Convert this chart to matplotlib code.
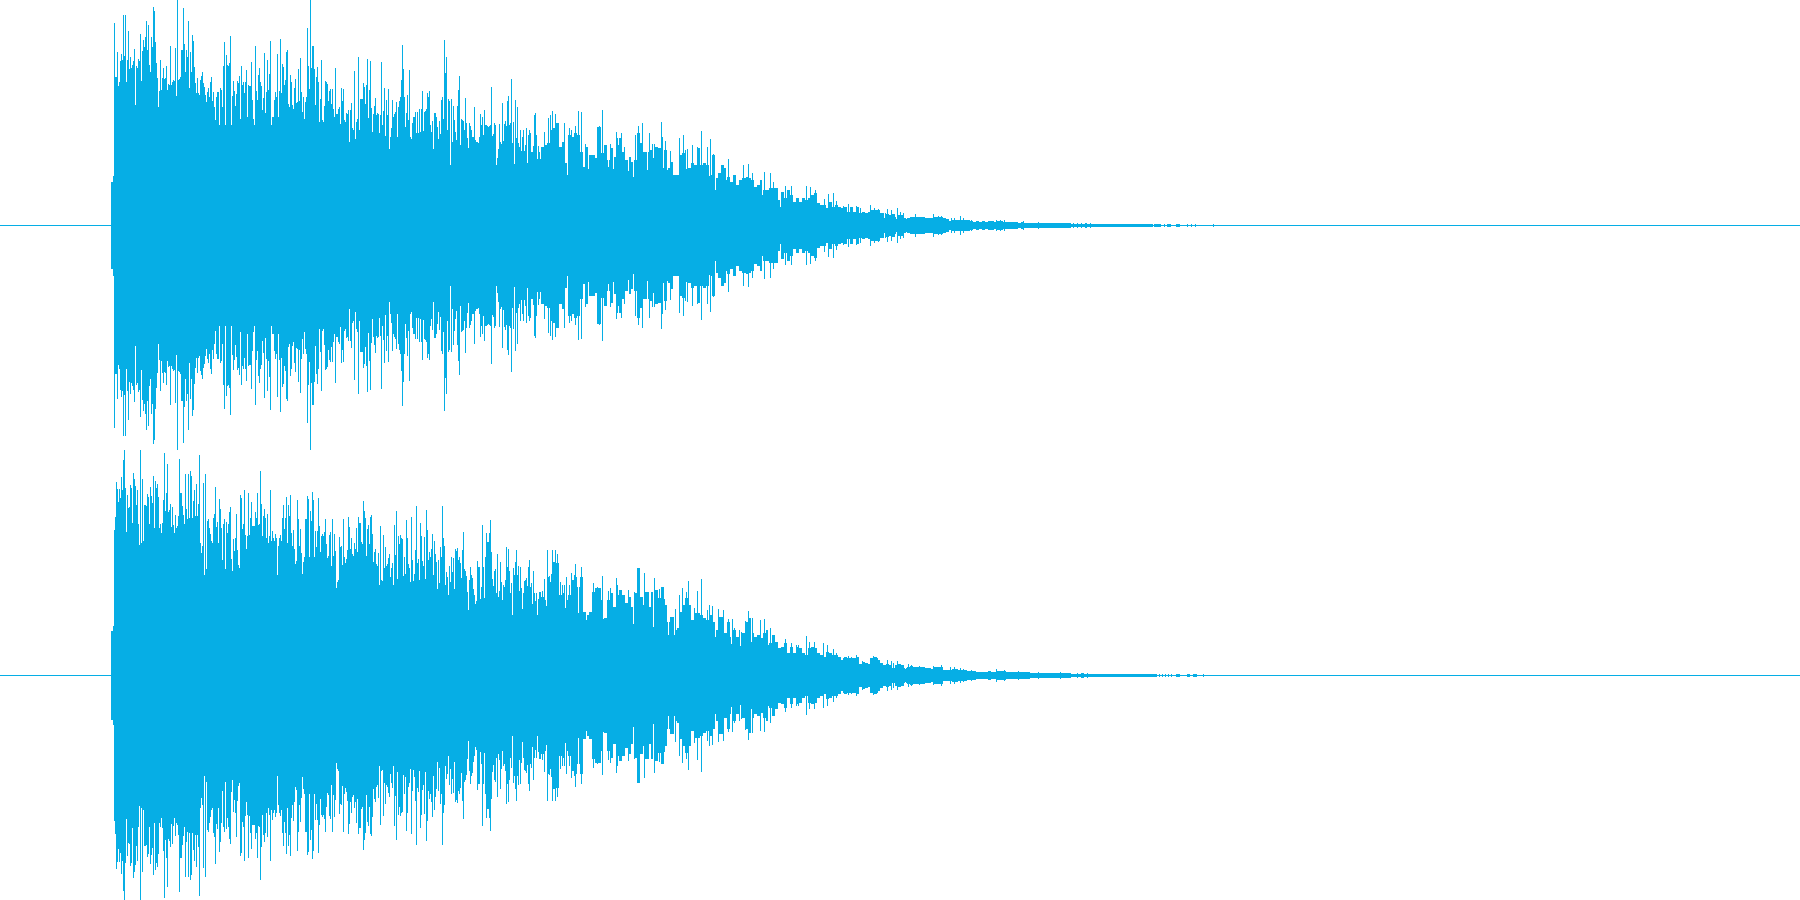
"""
Stereo waveform picture, one panel per channel. Both channels are mirrored around zero.
"""
import numpy as np
from matplotlib import pyplot as plt

COLOR = '#06aee5'
LINE_WIDTH = 0.72  # one pixel at dpi 100
N_COLUMNS = 1800
FULL_SCALE = 225  # peak heights below are in pixels, this height is amplitude 1
HEAD_START = 113
BODY_START = 325
MID_START = 540
FAR_START = 840
DECAY_STEP = 3
BAND_AMP = 0.011
TAIL_AMP = 0.0065

# Attack, the first columns of the sound
attack_x = [110, 111, 112]
ch1_attack = [0.19, 0.19, 0.22]
ch2_attack = [0.194, 0.194, 0.216]

# Peak height of every column, in pixels
ch1_head = [
    202, 148, 148, 173, 139, 143, 164, 171, 165, 210, 169, 210, 143, 165, 194, 156, 168, 157, 160, 164,
    176, 120, 159, 157, 166, 164, 191, 144, 174, 185, 178, 188, 204, 175, 200, 160, 153, 188, 178, 218,
    214, 183, 162, 147, 118, 134, 165, 135, 147, 157, 146, 147, 159, 135, 141, 140, 179, 140, 143, 145,
    144, 177, 129, 225, 145, 146, 148, 175, 175, 217, 181, 153, 175, 168, 204, 137, 173, 153, 190, 184,
    158, 142, 132, 147, 132, 130, 145, 149, 153, 142, 138, 130, 123, 133, 137, 128, 143, 148, 124, 133,
    118, 105, 128, 133, 133, 100, 137, 135, 118, 159, 183, 100, 170, 160, 159, 162, 189, 100, 129, 144,
    134, 119, 131, 144, 142, 149, 106, 159, 140, 143, 132, 143, 155, 108, 140, 139, 139, 163, 125, 106,
    100, 179, 134, 125, 150, 157, 143, 139, 115, 127, 172, 112, 133, 165, 135, 151, 184, 100, 108, 108,
    125, 133, 128, 171, 108, 134, 186, 132, 161, 158, 140, 145, 173, 175, 121, 118, 150, 143, 120, 116,
    137, 146, 122, 123, 156, 124, 167, 133, 113, 128, 106, 123, 128, 197, 159, 136, 225, 157, 179, 179,
    156, 120, 148, 158, 143, 103, 126, 165, 105, 103, 119, 144,
]
ch1_body = [
    143, 141, 124, 134, 136, 121, 136, 116, 108, 157, 111, 111, 116, 118, 101, 137, 124, 136, 105, 103,
    112, 111, 115, 83, 115, 122, 97, 95, 154, 86, 103, 106, 168, 95, 126, 126, 126, 142, 138, 121,
    140, 166, 107, 135, 164, 117, 93, 111, 119, 127, 110, 112, 111, 92, 110, 163, 100, 114, 137, 89,
    125, 110, 136, 76, 88, 97, 125, 108, 111, 113, 123, 88, 118, 124, 128, 145, 180, 156, 128, 98,
    112, 130, 105, 155, 88, 86, 102, 108, 108, 113, 92, 113, 92, 116, 93, 116, 134, 94, 113, 114,
    116, 132, 128, 134, 100, 93, 104, 76, 112, 112, 108, 98, 86, 104, 91, 125, 128, 106, 185, 152,
    168, 95, 126, 124, 60, 126, 83, 119, 105, 93, 85, 119, 135, 149, 80, 106, 105, 104, 95, 127,
    102, 87, 77, 102, 99, 95, 88, 88, 118, 85, 83, 83, 82, 88, 111, 100, 108, 90, 115, 100,
    100, 99, 98, 99, 100, 138, 89, 91, 102, 100, 60, 67, 76, 101, 83, 81, 122, 84, 101, 104,
    99, 124, 129, 100, 102, 146, 82, 103, 61, 125, 87, 118, 82, 78, 95, 74, 88, 95, 74, 80,
    97, 62, 90, 95, 92, 73, 73, 79, 110, 112, 90, 66, 79, 73, 66,
]
ch2_head = [
    145, 158, 193, 186, 173, 186, 177, 198, 185, 215, 225, 187, 143, 180, 167, 168, 190, 187, 152, 202,
    196, 189, 170, 185, 151, 130, 225, 132, 196, 134, 170, 170, 169, 181, 178, 151, 188, 179, 172, 199,
    147, 194, 187, 191, 178, 147, 151, 142, 152, 175, 222, 164, 182, 211, 163, 165, 171, 148, 168, 150,
    142, 160, 147, 149, 159, 216, 182, 182, 169, 160, 151, 201, 166, 156, 201, 157, 204, 199, 157, 174,
    185, 159, 191, 159, 171, 220, 132, 122, 129, 192, 100, 201, 106, 154, 156, 147, 141, 134, 132, 157,
    161, 188, 148, 153, 132, 176, 166, 147, 115, 151, 156, 106, 153, 142, 151, 163, 168, 116, 104, 136,
    124, 137, 161, 125, 110, 107, 180, 177, 146, 151, 185, 140, 126, 139, 182, 140, 157, 173, 149, 149,
    149, 163, 157, 182, 150, 151, 204, 171, 139, 159, 166, 157, 137, 161, 132, 139, 185, 134, 144, 137,
    134, 141, 137, 100, 129, 137, 140, 134, 157, 170, 146, 157, 178, 132, 170, 159, 180, 142, 129, 145,
    126, 111, 114, 175, 156, 129, 146, 122, 101, 113, 118, 156, 156, 179, 176, 118, 164, 154, 183, 175,
    118, 144, 128, 144, 177, 149, 123, 139, 141, 139, 143, 156,
]
ch2_body = [
    131, 117, 119, 140, 143, 109, 156, 119, 141, 124, 87, 93, 95, 138, 128, 129, 110, 156, 118, 112,
    116, 125, 158, 148, 126, 137, 121, 119, 132, 126, 147, 123, 158, 152, 152, 133, 131, 174, 164, 157,
    119, 146, 150, 131, 158, 160, 141, 113, 123, 126, 111, 109, 122, 90, 149, 95, 94, 140, 107, 128,
    109, 111, 117, 121, 98, 107, 112, 90, 150, 120, 164, 96, 139, 131, 140, 137, 136, 99, 118, 101,
    155, 137, 111, 107, 93, 158, 115, 94, 101, 125, 169, 112, 116, 95, 152, 139, 114, 109, 138, 96,
    165, 145, 115, 123, 118, 126, 141, 100, 134, 121, 113, 86, 115, 92, 128, 118, 169, 137, 129, 90,
    103, 98, 80, 109, 93, 118, 103, 117, 86, 126, 124, 127, 115, 118, 112, 97, 125, 143, 106, 104,
    99, 83, 65, 95, 108, 100, 97, 86, 80, 71, 74, 114, 108, 108, 76, 88, 150, 108, 77, 118,
    142, 133, 133, 142, 155, 123, 96, 89, 104, 106, 82, 121, 78, 84, 113, 93, 75, 90, 88, 95,
    128, 108, 126, 104, 82, 92, 60, 107, 100, 113, 125, 100, 109, 84, 108, 87, 66, 82, 94, 95,
    97, 89, 108, 115, 88, 92, 71, 104, 82, 74, 82, 60, 76, 83,
]

# Decay as amplitude, one value per 3 columns
ch1_mid = [
    .348, .356, .363, .422, .43, .452, .348, .37, .274, .40,
    .393, .407, .40, .326, .259, .348, .311, .311, .296, .437,
    .319, .356, .289, .341, .304, .356, .385, .326, .289, .304,
    .281, .289, .407, .363, .326, .326, .333, .296, .348, .341,
    .393, .333, .252, .281, .222, .222, .311, .319, .333, .252,
    .274, .267, .341, .267, .274, .267, .222, .311, .207, .23,
    .267, .252, .215, .193, .222, .178, .20, .207, .215, .207,
    .20, .17, .178, .20, .156, .156, .163, .163, .163, .111,
    .148, .119, .156, .133, .104, .119, .104, .119, .111, .119,
    .133, .141, .096, .089, .089, .074, .104, .081, .089, .081,
]
ch2_mid = [
    .348, .333, .437, .415, .504, .496, .356, .363, .333, .356,
    .422, .437, .393, .437, .281, .267, .281, .37, .385, .385,
    .333, .252, .333, .363, .304, .356, .378, .356, .319, .348,
    .304, .363, .474, .348, .311, .37, .304, .37, .378, .341,
    .393, .311, .237, .259, .259, .207, .281, .311, .341, .311,
    .244, .274, .274, .267, .252, .244, .267, .237, .2, .259,
    .259, .185, .237, .17, .2, .17, .193, .185, .237, .252,
    .185, .17, .178, .163, .185, .2, .141, .178, .148, .119,
    .126, .141, .096, .126, .096, .126, .119, .096, .089, .119,
    .126, .119, .096, .089, .081, .104, .096, .089, .089, .081,
]
ch1_far = [
    .074, .081, .059, .079, .059, .081, .052, .059, .052, .059, .067, .067, .067, .052, .052, .047, .044, .047, .037, .044,
    .044, .03, .03, .037, .037, .037, .037, .034, .033, .033, .03, .037, .037, .034, .03, .027, .019, .022, .022, .022,
    .022, .022, .022, .018, .015, .018, .015, .018, .015, .018, .016, .015, .018, .018, .015, .012, .012, .012, .012, .011,
    .012, .011, .011,
]
ch2_far = [
    .067, .081, .074, .077, .077, .081, .047, .056, .052, .047, .074, .081, .067, .052, .044, .047, .044, .03, .044, .047,
    .044, .033, .037, .041, .034, .037, .037, .037, .03, .03, .027, .037, .037, .037, .022, .022, .022, .027, .027, .022,
    .022, .022, .019, .018, .018, .015, .015, .015, .015, .018, .015, .015, .018, .018, .018, .015, .012, .012, .015, .012,
    .012, .012, .012, .011, .011,
]

# Single decay columns above the 3 column steps: (column, amplitude)
ch1_spikes = [
    (543, .412), (547, .477), (549, .487), (551, .507), (554, .493), (555, .452), (563, .453), (568, .431),
    (570, .422), (574, .44), (575, .40), (577, .507), (580, .502), (584, .36), (596, .437), (598, .441),
    (601, .513), (609, .359), (615, .412), (616, .385), (620, .407), (623, .348), (634, .4), (637, .441),
    (641, .452), (648, .407), (651, .359), (653, .359), (660, .458), (664, .373), (669, .33), (678, .385),
    (682, .40), (686, .338), (691, .356), (696, .348), (700, .418), (706, .348), (709, .381), (712, .316),
    (717, .233), (720, .268), (727, .293), (742, .267), (747, .271), (751, .233), (763, .237), (769, .233),
    (772, .19), (784, .175), (790, .173), (805, .173), (809, .169), (814, .154), (823, .116), (827, .136),
    (832, .141), (835, .107), (842, .084), (847, .093), (849, .08), (855, .084), (859, .077), (869, .089),
    (873, .074), (877, .07), (886, .071), (890, .067), (896, .077), (899, .056), (902, .052), (914, .049),
    (932, .049), (937, .04), (940, .041), (950, .03), (953, .033), (959, .04), (962, .033), (970, .022),
    (995, .022), (999, .022), (1003, .022), (1022, .018), (1037, .013), (1072, .011), (1076, .011), (1080, .011),
    (1084, .011), (1085, .011), (1089, .011),
]
ch2_spikes = [
    (541, .373), (543, .427), (546, .556), (548, .441), (550, .45), (551, .556), (554, .556), (556, .538),
    (559, .412), (561, .4), (563, .4), (565, .434), (568, .4), (570, .452), (573, .444), (574, .493),
    (575, .437), (580, .479), (581, .36), (592, .407), (594, .385), (596, .39), (598, .385), (601, .44),
    (607, .373), (609, .385), (615, .43), (616, .4), (618, .378), (620, .37), (627, .378), (633, .367),
    (636, .474), (637, .47), (639, .348), (643, .452), (644, .37), (650, .37), (653, .43), (655, .373),
    (658, .382), (660, .393), (663, .338), (669, .259), (674, .293), (678, .356), (681, .385), (685, .37),
    (687, .418), (693, .296), (696, .373), (700, .425), (706, .289), (708, .311), (711, .307), (717, .293),
    (722, .289), (727, .248), (731, .248), (733, .207), (738, .2), (744, .24), (747, .284), (751, .252),
    (759, .244), (763, .25), (769, .207), (784, .16), (790, .141), (795, .133), (797, .133), (805, .173),
    (808, .147), (813, .148), (822, .141), (826, .133), (832, .115), (835, .096), (842, .077), (847, .083),
    (850, .08), (855, .089), (861, .062), (869, .077), (872, .084), (876, .077), (886, .067), (890, .062),
    (892, .053), (896, .064), (899, .049), (907, .049), (910, .044), (918, .04), (932, .041), (940, .044),
    (949, .037), (953, .037), (959, .033), (962, .027), (970, .022), (995, .027), (1003, .022), (1017, .018),
    (1037, .013), (1059, .013), (1076, .011), (1080, .011), (1081, .011), (1082, .011), (1086, .011),
]

# Single decay columns below the 3 column steps: (column, amplitude)
ch1_notches = [
    (566, .222), (582, .259), (587, .249), (607, .256), (612, .249), (627, .241), (632, .215), (646, .246),
    (662, .252), (666, .246), (685, .249), (708, .218), (714, .156), (725, .2), (744, .207), (761, .133),
    (779, .081), (883, .03), (895, .027), (905, .027),
]
ch2_notches = [
    (545, .307), (564, .296), (577, .274), (585, .244), (602, .249), (632, .227), (652, .215), (667, .178),
    (673, .178), (675, .2), (714, .167), (730, .138), (739, .129), (750, .148), (767, .133), (904, .027),
]

# Quiet end of the sound: end of the thick band, end of the thin tail, then the last short blips
band_end = 1070
ch1_tail_end = 1152
ch2_tail_end = 1156
ch1_blips = [1153, 1154, 1155, 1156, 1157, 1158, 1159, 1163, 1166, 1167, 1168, 1169, 1175, 1176, 1177, 1178, 1186, 1190, 1194, 1212]
ch2_blips = [1158, 1161, 1164, 1167, 1170, 1175, 1176, 1177, 1178, 1186, 1187, 1188, 1192, 1193, 1194, 1195, 1202]


def build_amplitude(attack, head, body, mid, far, spikes, notches, tail_end, blips):
    """
    Put the values read from the picture on one amplitude per pixel column
    :param attack: Amplitudes of the attack columns
    :param head: Peak height in pixels per column, from HEAD_START
    :param body: Peak height in pixels per column, from BODY_START
    :param mid: Amplitudes per DECAY_STEP columns, from MID_START
    :param far: Amplitudes per DECAY_STEP columns, from FAR_START
    :param spikes: List of (column, amplitude) pairs raised above the steps
    :param notches: List of (column, amplitude) pairs dropped below the steps
    :param tail_end: Column where the thin tail stops
    :param blips: Columns with a short blip after the tail
    """
    amp = np.zeros(N_COLUMNS)
    amp[attack_x] = attack
    amp[HEAD_START:HEAD_START + len(head)] = np.array(head) / FULL_SCALE
    amp[BODY_START:BODY_START + len(body)] = np.array(body) / FULL_SCALE
    amp[BODY_START + len(body):MID_START] = body[-1] / FULL_SCALE
    amp[MID_START:MID_START + DECAY_STEP * len(mid)] = np.repeat(mid, DECAY_STEP)
    far_end = FAR_START + DECAY_STEP * len(far)
    amp[FAR_START:far_end] = np.repeat(far, DECAY_STEP)
    amp[far_end:band_end] = BAND_AMP
    amp[band_end:tail_end] = TAIL_AMP
    amp[blips] = TAIL_AMP
    for column, value in spikes:
        amp[column] = max(amp[column], value)
    for column, value in notches:
        amp[column] = min(amp[column], value)
    return amp


def plot_channel(ax, amp):
    columns = np.arange(N_COLUMNS) + 0.5
    drawn = amp > 0
    ax.axhline(0, color=COLOR, linewidth=LINE_WIDTH, antialiased=False)
    ax.vlines(columns[drawn], -amp[drawn], amp[drawn], color=COLOR, linewidth=LINE_WIDTH,
              antialiased=False, capstyle='butt')
    ax.set_xlim(0, N_COLUMNS)
    ax.set_ylim(-1, 1)
    ax.axis('off')


fig = plt.figure(figsize=(18, 9), dpi=100)
ax_top = fig.add_axes([0, 0.5, 1, 0.5])
ax_bottom = fig.add_axes([0, 0, 1, 0.5])

plot_channel(ax_top, build_amplitude(ch1_attack, ch1_head, ch1_body, ch1_mid, ch1_far,
                                     ch1_spikes, ch1_notches, ch1_tail_end, ch1_blips))
plot_channel(ax_bottom, build_amplitude(ch2_attack, ch2_head, ch2_body, ch2_mid, ch2_far,
                                        ch2_spikes, ch2_notches, ch2_tail_end, ch2_blips))

fig.savefig('out.png', dpi=100)
